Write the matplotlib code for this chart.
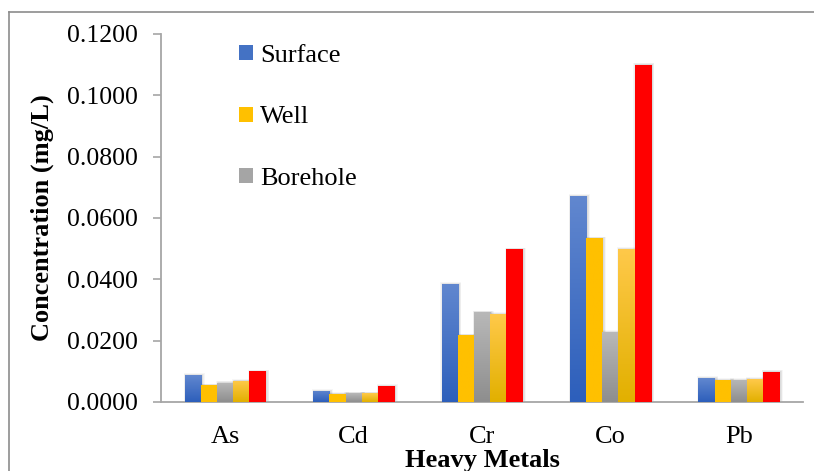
import matplotlib
matplotlib.use("Agg")
import matplotlib.pyplot as plt
import numpy as np
from matplotlib.colors import LinearSegmentedColormap
from matplotlib.lines import Line2D
from matplotlib.patches import Rectangle, Patch

plt.rcParams['font.family'] = ['Liberation Serif', 'DejaVu Serif']

metals = ["As", "Cd", "Cr", "Co", "Pb"]
surface = [0.0088, 0.0036, 0.0385, 0.0672, 0.0078]
well = [0.0055, 0.0027, 0.0218, 0.0534, 0.0072]
borehole = [0.0063, 0.0029, 0.0293, 0.0228, 0.0072]
other_1 = [0.0069, 0.0029, 0.0287, 0.0499, 0.0075]
other_2 = [0.0100, 0.0052, 0.0498, 0.1100, 0.0099]
yticks = [0.0, 0.02, 0.04, 0.06, 0.08, 0.10, 0.12]

series = [
    ("Surface", surface, ("#6187cf", "#2d5fbb"), "#4472c4"),
    ("Well", well, ("#ffc000", "#ffc000"), "#ffc000"),
    ("Borehole", borehole, ("#b8b8b8", "#8e8e8e"), "#a5a5a5"),
    (None, other_1, ("#ffc94a", "#e2b000"), "#ffc000"),
    (None, other_2, ("#ff0000", "#ff0000"), "#ff0000"),
]

fig = plt.figure(figsize=(8.14, 4.71), dpi=100)
ax = fig.add_axes([161 / 814, 1 - 402 / 471, 642 / 814, 368 / 471])

# outer chart frame: left and top edges
fx, fy = 8.5 / 814, 1 - 11.5 / 471
fig.lines.append(Line2D([fx, fx], [0, fy], transform=fig.transFigure,
                        color="#8c8c8c", linewidth=1.2))
fig.lines.append(Line2D([fx, 1], [fy, fy], transform=fig.transFigure,
                        color="#8c8c8c", linewidth=1.2))

x = np.arange(len(metals))
width = 0.126
px_x = 1 / 128.4
px_y = 0.12 / 368

for j, (name, vals, (top, bottom), flat) in enumerate(series):
    pos = x + (j - 2) * width
    # soft shadow behind each bar
    for k in range(1, 5):
        for p, v in zip(pos, vals):
            ax.add_patch(Rectangle((p - width / 2 - k * 0.6 * px_x + 1.2 * px_x, -k * px_y),
                                   width + k * 1.2 * px_x, v + k * 1.4 * px_y,
                                   facecolor="#000000", alpha=0.035,
                                   edgecolor="none", zorder=1))
    bars = ax.bar(pos, vals, width, color=flat, zorder=2, linewidth=0)
    cmap = LinearSegmentedColormap.from_list("g%d" % j, [bottom, top])
    grad = np.linspace(0, 1, 64).reshape(-1, 1)
    for b in bars:
        x0 = b.get_x()
        h = b.get_height()
        im = ax.imshow(grad, cmap=cmap, origin="lower", aspect="auto",
                       extent=[x0, x0 + b.get_width(), 0, h], zorder=3,
                       interpolation="bilinear")
        im.set_clip_path(b)

ax.set_xlim(-0.5, 4.5)
ax.set_ylim(0, 0.12)
ax.set_yticks(yticks)
ax.set_yticklabels(["%.4f" % t for t in yticks])
ax.set_xticks(x)
ax.set_xticklabels(metals)

for s in ["top", "right"]:
    ax.spines[s].set_visible(False)
for s in ["left", "bottom"]:
    ax.spines[s].set_color("#a6a6a6")
    ax.spines[s].set_linewidth(1.3)
ax.tick_params(axis="y", length=6, width=1.2, color="#a6a6a6",
               pad=11, labelsize=18.5)
ax.tick_params(axis="x", length=0, pad=17, labelsize=19)

ax.set_ylabel("Concentration (mg/L)", fontsize=19, fontweight="bold")
ax.yaxis.set_label_coords(-0.166, 0.5)
ax.set_xlabel("Heavy Metals", fontsize=19, fontweight="bold", va="center")
ax.xaxis.set_label_coords(0.5, -0.158)

handles = [Patch(facecolor=flat, edgecolor="none")
           for name, _, _, flat in series if name]
labels = [name for name, _, _, _ in series if name]
ax.legend(handles, labels, loc="upper left", bbox_to_anchor=(0.085, 1.035),
          frameon=False, fontsize=19, handlelength=0.5, handleheight=0.5,
          handletextpad=0.3, labelspacing=1.5)

fig.savefig("out.png", dpi=100)
